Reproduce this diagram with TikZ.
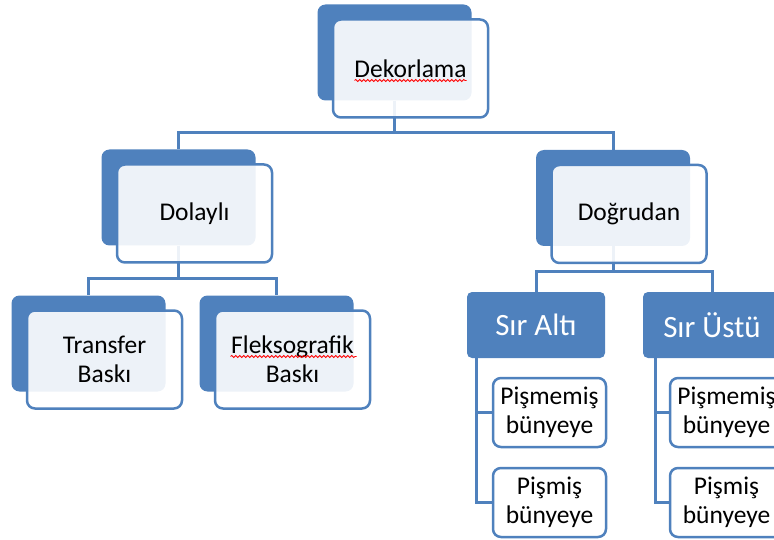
\documentclass[tikz,border=0pt]{standalone}
\usepackage{fontspec}
\setmainfont{Carlito}
\usetikzlibrary{decorations.pathmorphing}
\definecolor{smblue}{HTML}{4F81BD}
\newcommand{\twol}[2]{#1\\#2}

\begin{document}
\begin{tikzpicture}[x=1pt,y=-1pt,
  every node/.style={font=\fontsize{25.5}{29}\selectfont},
  backbox/.style={rectangle,rounded corners=8pt,fill=smblue,
                  minimum width=154pt,minimum height=96pt},
  frontbox/.style={rectangle,rounded corners=8pt,draw=smblue,line width=2.5pt,
                   fill=white,fill opacity=0.9,text opacity=1,text=black,
                   minimum width=155pt,minimum height=98pt,align=center},
  sirbox/.style={rectangle,rounded corners=5pt,fill=smblue,text=white,
                 minimum width=138pt,minimum height=66pt,
                 font=\fontsize{31}{36}\selectfont},
  leafbox/.style={rectangle,rounded corners=8pt,draw=smblue,line width=2.5pt,
                  fill=white,text=black,align=center,inner sep=0pt,
                  minimum width=113pt,minimum height=69pt},
  treeline/.style={draw=smblue,line width=3pt},
  squig/.style={draw=red,line width=0.8pt,decorate,
                decoration={snake,amplitude=1pt,segment length=4pt}}]

 \clip (0,0) rectangle (774,540);

 % back shapes
 \draw (394.5,52.5) node[backbox] (dekB) {};
 \draw (178.5,197.5) node[backbox] (dolB) {};
 \draw (613,198)    node[backbox] (dogB) {};
 \draw (88.5,343.5) node[backbox] (traB) {};
 \draw (276.5,343.5) node[backbox] (fleB) {};

 % tree lines
 \coordinate (barA) at (394.5,133);
 \coordinate (barB) at (178.5,279);
 \coordinate (barC) at (613,272);

 \draw (536,325) node[sirbox] (sa) {Sır Altı};
 \draw (712,325) node[sirbox] (su) {Sır Üstü};

 \draw[treeline] (dekB.south) -- (barA) -| (dolB.north);
 \draw[treeline] (barA) -| (dogB.north);
 \draw[treeline] (dolB.south) -- (barB) -| (traB.north);
 \draw[treeline] (barB) -| (fleB.north);
 \draw[treeline] (dogB.south) -- (barC) -| (sa.north);
 \draw[treeline] (barC) -| (su.north);

 % front shapes
 \draw (dekB.center) ++(16,16) node[frontbox] (dek) {Dekorlama};
 \draw (dolB.center) ++(16,16) node[frontbox] (dol) {Dolaylı};
 \draw (dogB.center) ++(16,16) node[frontbox] (dog) {Doğrudan};
 \draw (traB.center) ++(16,16) node[frontbox] (tra) {\twol{Transfer}{Baskı}};
 \draw (fleB.center) ++(16,16) node[frontbox] (fle) {\twol{Fleksografik}{Baskı}};

 \draw[squig] ([xshift=-56pt,yshift=-12pt]dek.center)
           -- ([xshift=56pt,yshift=-12pt]dek.center);
 \draw[squig] ([xshift=-62pt,yshift=3pt]fle.center)
           -- ([xshift=64pt,yshift=3pt]fle.center);

 % leaves
 \draw (549.5,412.5) node[leafbox] (sa1) {\twol{Pişmemiş}{bünyeye}};
 \draw (549.5,502.5) node[leafbox] (sa2) {\twol{Pişmiş}{bünyeye}};
 \draw (726.5,412.5) node[leafbox] (su1) {\twol{Pişmemiş}{bünyeye}};
 \draw (726.5,502.5) node[leafbox] (su2) {\twol{Pişmiş}{bünyeye}};

 \draw[treeline] ([xshift=10pt]sa.south west) |- (sa1.west);
 \draw[treeline] ([xshift=10pt]sa.south west) |- (sa2.west);
 \draw[treeline] ([xshift=13pt]su.south west) |- (su1.west);
 \draw[treeline] ([xshift=13pt]su.south west) |- (su2.west);

\end{tikzpicture}
\end{document}
